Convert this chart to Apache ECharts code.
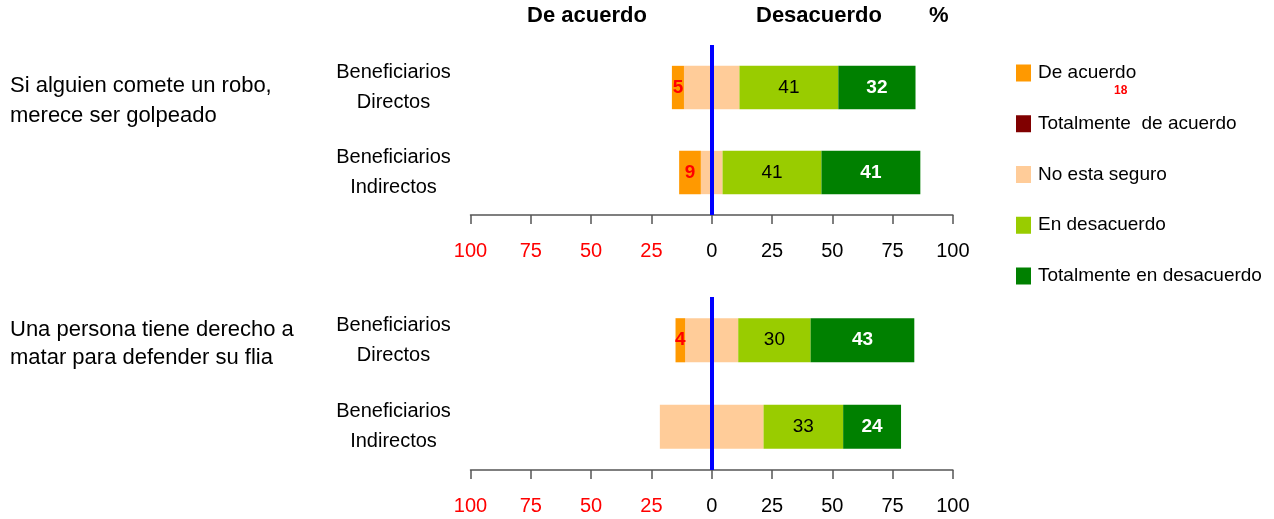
<!DOCTYPE html>
<html>
<head>
<meta charset="utf-8">
<script src="https://cdn.jsdelivr.net/npm/echarts@6/dist/echarts.min.js"></script>
<style>
  html, body { margin: 0; padding: 0; background: #fff; }
  #chart { width: 1274px; height: 519px; }
</style>
</head>
<body>
<div id="chart"></div>
<script>
// categories (top to bottom in each panel)
const categories = ['Beneficiarios\nDirectos', 'Beneficiarios\nIndirectos'];
const questions = ['Si alguien comete un robo,\nmerece ser golpeado', 'Una persona tiene derecho a\nmatar para defender su flia'];
const legendNames = ['De acuerdo', 'Totalmente  de acuerdo', 'No esta seguro', 'En desacuerdo', 'Totalmente en desacuerdo'];

// panel 1: robo
const p1DeAcuerdo = [5, 9];
const p1TotDeAcuerdo = [0, 0];
const p1NoSeguro = [23, 9];
const p1EnDesacuerdo = [41, 41];
const p1TotDesacuerdo = [32, 41];

// panel 2: matar
const p2DeAcuerdo = [4, 0];
const p2TotDeAcuerdo = [0, 0];
const p2NoSeguro = [22, 43];
const p2EnDesacuerdo = [30, 33];
const p2TotDesacuerdo = [43, 24];

const FONT = '"Liberation Sans Narrow", "Arial Narrow", "Liberation Sans", Arial, sans-serif';
const C = {
  deAcuerdo: '#FF9900', totDeAcuerdo: '#800000', noSeguro: '#FFCC99',
  enDesacuerdo: '#99CC00', totDesacuerdo: '#008000', zero: '#0000FF'
};

const panels = [
  { top: 45, height: 170, d: [p1DeAcuerdo, p1TotDeAcuerdo, p1NoSeguro, p1EnDesacuerdo, p1TotDesacuerdo] },
  { top: 297, height: 173, d: [p2DeAcuerdo, p2TotDeAcuerdo, p2NoSeguro, p2EnDesacuerdo, p2TotDesacuerdo] }
];

const hideZero = (p) => (p.value === 0 ? '' : String(Math.abs(p.value)));

const grid = [], xAxis = [], yAxis = [], series = [];
panels.forEach((pn, i) => {
  grid.push({ left: 470.5, width: 482.4, top: pn.top, height: pn.height });
  xAxis.push({
    gridIndex: i, type: 'value', min: -100, max: 100, interval: 25,
    axisLine: { show: true, lineStyle: { color: '#555', width: 1.5 } },
    axisTick: { show: true, length: 9, lineStyle: { color: '#555', width: 1.5 } },
    splitLine: { show: false },
    axisLabel: {
      margin: 26, fontFamily: FONT, fontSize: 20,
      formatter: (v) => (v < 0 ? '{r|' + Math.abs(v) + '}' : '{b|' + v + '}'),
      rich: {
        r: { color: '#FF0000', fontFamily: FONT, fontSize: 20 },
        b: { color: '#000', fontFamily: FONT, fontSize: 20 }
      }
    }
  });
  yAxis.push({
    gridIndex: i, type: 'category', data: categories, inverse: true,
    axisLine: { show: false }, axisTick: { show: false },
    axisLabel: { align: 'center', margin: 77, color: '#000', fontFamily: FONT, fontSize: 20, lineHeight: 30 }
  });
  const [deA, totDeA, noS, enD, totD] = pn.d;
  const base = { type: 'bar', xAxisIndex: i, yAxisIndex: i, stack: 'p' + i, barWidth: '51%', animation: false };
  series.push(
    Object.assign({}, base, {
      name: 'No esta seguro', data: noS.map((v) => -v / 2), itemStyle: { color: C.noSeguro },
      markLine: {
        silent: true, symbol: 'none', label: { show: false },
        lineStyle: { color: C.zero, width: 4, type: 'solid' },
        data: [{ xAxis: 0 }]
      }
    }),
    Object.assign({}, base, {
      name: 'De acuerdo', data: deA.map((v) => -v), itemStyle: { color: C.deAcuerdo },
      label: { show: true, formatter: hideZero, color: '#FF0000', fontWeight: 'bold', fontFamily: FONT, fontSize: 19 }
    }),
    Object.assign({}, base, {
      name: 'Totalmente  de acuerdo', data: totDeA.map((v) => -v), itemStyle: { color: C.totDeAcuerdo }
    }),
    Object.assign({}, base, {
      name: 'No esta seguro', data: noS.map((v) => v / 2), itemStyle: { color: C.noSeguro }
    }),
    Object.assign({}, base, {
      name: 'En desacuerdo', data: enD, itemStyle: { color: C.enDesacuerdo },
      label: { show: true, formatter: hideZero, color: '#000', fontFamily: FONT, fontSize: 19 }
    }),
    Object.assign({}, base, {
      name: 'Totalmente en desacuerdo', data: totD, itemStyle: { color: C.totDesacuerdo },
      label: { show: true, formatter: hideZero, color: '#fff', fontWeight: 'bold', fontFamily: FONT, fontSize: 19 }
    })
  );
});

const chart = echarts.init(document.getElementById('chart'), null, { renderer: 'canvas' });
chart.setOption({
  backgroundColor: '#fff',
  animation: false,
  textStyle: { fontFamily: FONT },
  grid, xAxis, yAxis, series,
  legend: {
    data: legendNames, orient: 'vertical', left: 1016, top: 63, padding: 0,
    icon: 'rect', itemWidth: 15, itemHeight: 17, itemGap: 30.75,
    selectedMode: false,
    textStyle: { color: '#000', fontFamily: FONT, fontSize: 19, lineHeight: 20, padding: [0, 0, 0, 2] }
  },
  graphic: [
    { type: 'text', left: 527, top: 5, style: { text: 'De acuerdo', fontFamily: FONT, fontSize: 22, fontWeight: 'bold', fill: '#000' } },
    { type: 'text', left: 756, top: 5, style: { text: 'Desacuerdo', fontFamily: FONT, fontSize: 22, fontWeight: 'bold', fill: '#000' } },
    { type: 'text', left: 929, top: 5, style: { text: '%', fontFamily: FONT, fontSize: 22, fontWeight: 'bold', fill: '#000' } },
    { type: 'text', left: 1114, top: 85, style: { text: '18', fontFamily: FONT, fontSize: 12, fontWeight: 'bold', fill: '#FF0000' } },
    { type: 'text', left: 10, top: 71, style: { text: questions[0], fontFamily: FONT, fontSize: 22, lineHeight: 30, fill: '#000' } },
    { type: 'text', left: 10, top: 316, style: { text: questions[1], fontFamily: FONT, fontSize: 22, lineHeight: 28, fill: '#000' } }
  ]
});
</script>
</body>
</html>
